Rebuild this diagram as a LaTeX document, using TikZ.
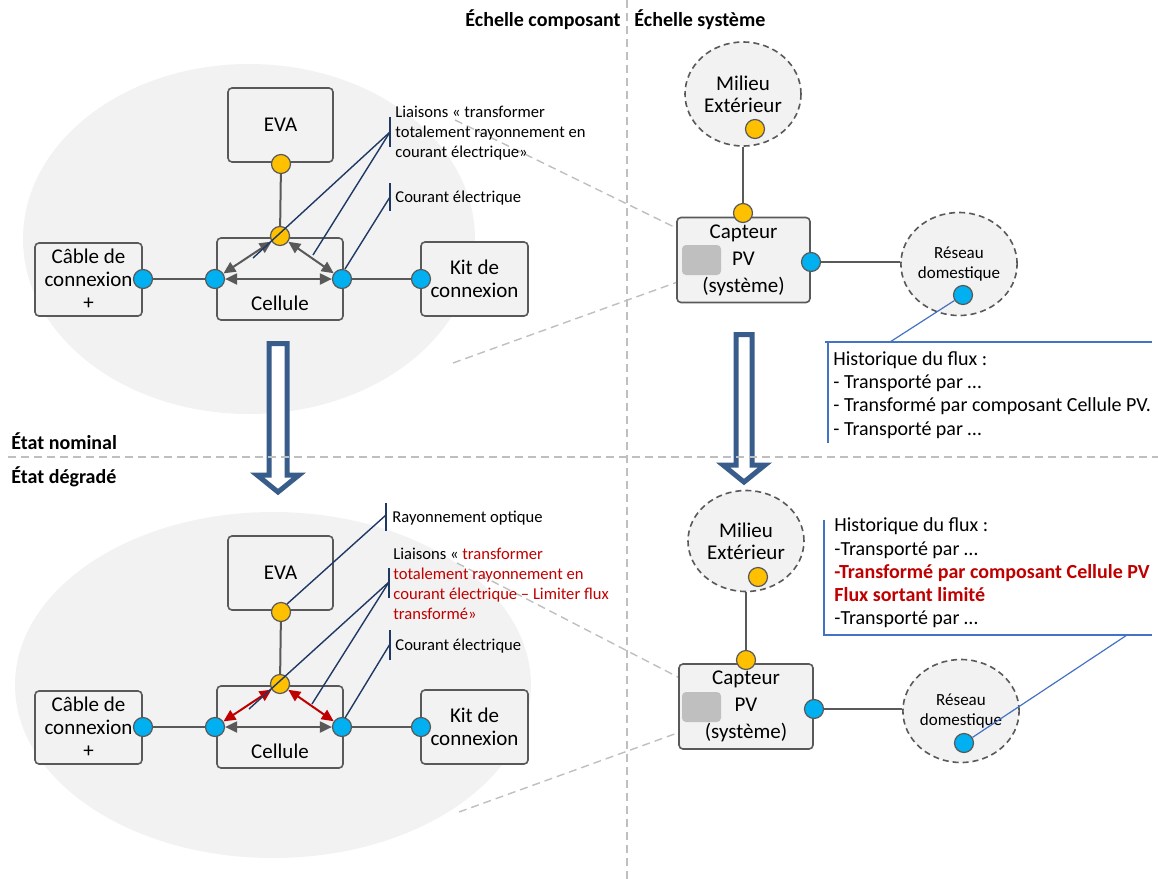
\documentclass[tikz,border=0pt]{standalone}
\usepackage{fontspec}
\setmainfont{Carlito}
\usetikzlibrary{arrows.meta,shapes.geometric}
\definecolor{bggray}{RGB}{242,242,242}
\definecolor{linegray}{RGB}{89,89,89}
\definecolor{sepgray}{RGB}{191,191,191}
\definecolor{portorange}{RGB}{255,192,0}
\definecolor{portblue}{RGB}{0,176,240}
\definecolor{leadblue}{RGB}{31,56,100}
\definecolor{noteblue}{RGB}{68,114,196}
\definecolor{arrowblue}{RGB}{56,93,138}
\definecolor{degred}{RGB}{192,0,0}
\tikzset{
  comp/.style={draw=linegray, fill=bggray, line width=0.8pt, rounded corners=2pt, align=center, inner sep=0pt, font=\fontsize{10.5}{11.5}\selectfont},
  envi/.style={ellipse, draw=linegray, fill=bggray, dash pattern=on 3pt off 2pt, line width=0.8pt, align=center, inner sep=0pt},
  orport/.style={circle, draw=linegray, fill=portorange, line width=0.6pt, minimum size=9.5pt, inner sep=0pt},
  blport/.style={circle, draw=linegray, fill=portblue, line width=0.6pt, minimum size=9.5pt, inner sep=0pt},
  link/.style={draw=linegray, line width=1pt},
  flow/.style={<->, >={Triangle[length=6pt,width=5.5pt]}, draw=linegray, line width=1pt},
  leader/.style={draw=leadblue, line width=0.7pt},
  noteline/.style={draw=noteblue, line width=0.6pt},
  sep/.style={draw=sepgray, dash pattern=on 4pt off 2.5pt, line width=0.7pt},
  bigarrow/.style={draw=arrowblue, fill=white, line width=2.5pt, line join=miter},
  small/.style={font=\fontsize{8.3}{10}\selectfont, align=left, inner sep=0pt, anchor=west},
  hist/.style={font=\fontsize{10}{11.6}\selectfont, align=left, inner sep=0pt, anchor=west},
  head/.style={font=\fontsize{10}{12}\selectfont\bfseries, inner sep=0pt}
}
\begin{document}
\begin{tikzpicture}[x=0.5pt,y=-0.5pt]
\useasboundingbox (0,0) rectangle (1158,879);
% fonds
\fill[bggray] (249,239) ellipse [x radius=113pt, y radius=87.5pt];
\fill[bggray] (273,685) ellipse [x radius=129pt, y radius=86.5pt];

% lignes de zoom
\coordinate (zuT1) at (455,120); \coordinate (zuT2) at (707,243);
\coordinate (zlT1) at (453,363); \coordinate (zlT2) at (697,275);
\coordinate (zuB1) at (457,563); \coordinate (zuB2) at (703,690);
\coordinate (zlB1) at (459,812); \coordinate (zlB2) at (705,723);
\draw[sep] (zuT1) -- (zuT2);
\draw[sep] (zlT1) -- (zlT2);
\draw[sep] (zuB1) -- (zuB2);
\draw[sep] (zlB1) -- (zlB2);

% fleches d'etat
\draw[bigarrow] (269,343.5) -- (287,343.5) -- (287,475) -- (299,475) -- (278,492) -- (257,475) -- (269,475) -- cycle;
\draw[bigarrow] (736,334.5) -- (752,334.5) -- (752,465) -- (765,465) -- (744,482) -- (723,465) -- (736,465) -- cycle;

% separations
\draw[sep] (627,0) -- (627,879);
\draw[sep] (8,457) -- (1158,457);
\node[head, anchor=east] (echcomp) at (621,20) {Échelle composant};
\node[head, anchor=west] (echsys) at (634,20) {Échelle système};
\node[head, anchor=west] (nominal) at (11,441) {État nominal};
\node[head, anchor=west] (degrade) at (11,477) {État dégradé};

%%% etat nominal, echelle composant
\node[comp, minimum width=52.5pt, minimum height=37pt] (evaT) at (280.5,125) {EVA};
\node[comp, minimum width=63pt, minimum height=41pt] (celT) at (280,279) {};
\node[inner sep=0pt, font=\fontsize{10.5}{11.5}\selectfont] (celtxtT) at (280,303) {Cellule};
\node[comp, minimum width=53.5pt, minimum height=36.5pt] (cableT) at (88.5,279.5) {Câble de\\connexion\\+};
\node[comp, minimum width=53.5pt, minimum height=37pt] (kitT) at (474.5,279) {Kit de\\connexion};
\node[orport] (evaorT) at (281,164) {};
\node[orport] (celorT) at (280,236) {};
\node[blport] (celloT) at (215,279) {};
\node[blport] (celriT) at (342,279) {};
\node[blport] (cablebT) at (143,279) {};
\node[blport] (kitbT) at (421,279) {};
\draw[link] (evaorT) -- (celorT);
\draw[link] (cablebT) -- (celloT);
\draw[link] (celriT) -- (kitbT);
\draw[flow] (celloT) -- (celriT);
\draw[flow] (celorT) -- (celloT);
\draw[flow] (celorT) -- (celriT);

\node[small] (liaisonsT) at (395,133) {Liaisons « transformer\\totalement rayonnement en\\courant électrique»};
\coordinate (lbT1) at (390,117); \coordinate (lbT2) at (390,147); \coordinate (lbT) at (390,132);
\coordinate (leT1) at (253,258); \coordinate (leT2) at (313,255);
\draw[leader] (lbT1) -- (lbT2);
\draw[leader] (lbT) -- (leT1);
\draw[leader] (lbT) -- (leT2);
\node[small] (courantT) at (395,198) {Courant électrique};
\coordinate (cbT1) at (390,183); \coordinate (cbT2) at (390,211); \coordinate (cbT) at (390,197);
\coordinate (ceT) at (345,269);
\draw[leader] (cbT1) -- (cbT2);
\draw[leader] (cbT) -- (ceT);

%%% etat nominal, echelle systeme
\node[envi, minimum width=58pt, minimum height=52pt, font=\fontsize{10.5}{11}\selectfont] (milT) at (743,94) {Milieu\\Extérieur};
\node[orport] (milorT) at (755,129) {};
\node[comp, minimum width=66.5pt, minimum height=42.5pt, font=\fontsize{10.5}{13.5}\selectfont] (capT) at (743.5,260) {Capteur\\PV\\(système)};
\node[fill=sepgray, rounded corners=2pt, minimum width=19.5pt, minimum height=15pt, inner sep=0pt] (capsqT) at (701.5,260) {};
\node[orport] (caporT) at (743,213) {};
\node[blport] (capblT) at (811,262) {};
\node[envi, minimum width=58pt, minimum height=51.5pt, font=\fontsize{8.5}{10}\selectfont] (resT) at (959,264) {Réseau\\domestique};
\node[blport] (resblT) at (963,295) {};
\draw[link] (milT.south) -- (caporT);
\draw[link] (capblT) -- (capblT -| resT.west);

\coordinate (hcT1) at (825,342); \coordinate (hcT2) at (1152,342);
\coordinate (hcT3) at (828,342); \coordinate (hcT4) at (828,443);
\coordinate (hlT) at (890,342);
\draw[noteline] (hcT1) -- (hcT2);
\draw[noteline] (hcT3) -- (hcT4);
\draw[noteline] (hlT) -- (resblT);
\node[hist] (histT) at (833,395) {Historique du flux :\\- Transporté par …\\- Transformé par composant Cellule PV.\\- Transporté par …};

%%% etat degrade, echelle composant
\node[comp, minimum width=52.5pt, minimum height=37pt] (evaB) at (280.5,573) {EVA};
\node[comp, minimum width=63pt, minimum height=41pt] (celB) at (280,727) {};
\node[inner sep=0pt, font=\fontsize{10.5}{11.5}\selectfont] (celtxtB) at (280,751) {Cellule};
\node[comp, minimum width=53.5pt, minimum height=36.5pt] (cableB) at (88.5,727.5) {Câble de\\connexion\\+};
\node[comp, minimum width=53.5pt, minimum height=37pt] (kitB) at (474.5,727) {Kit de\\connexion};
\node[orport] (evaorB) at (281,612) {};
\node[orport] (celorB) at (280,684) {};
\node[blport] (celloB) at (215,727) {};
\node[blport] (celriB) at (342,727) {};
\node[blport] (cablebB) at (143,727) {};
\node[blport] (kitbB) at (421,727) {};
\draw[link] (evaorB) -- (celorB);
\draw[link] (cablebB) -- (celloB);
\draw[link] (celriB) -- (kitbB);
\draw[flow] (celloB) -- (celriB);
\draw[flow, draw=degred] (celorB) -- (celloB);
\draw[flow, draw=degred] (celorB) -- (celriB);

\node[small] (rayonB) at (392,518) {Rayonnement optique};
\coordinate (rbB1) at (386,503); \coordinate (rbB2) at (386,531); \coordinate (rbB) at (386,515);
\coordinate (reB) at (287,604);
\draw[leader] (rbB1) -- (rbB2);
\draw[leader] (rbB) -- (reB);
\node[small] (liaisonsB) at (393,584) {Liaisons « \textcolor{degred}{transformer}\\\textcolor{degred}{totalement rayonnement en}\\\textcolor{degred}{courant électrique – Limiter flux}\\\textcolor{degred}{transformé»}};
\coordinate (lbB1) at (389,568); \coordinate (lbB2) at (389,598); \coordinate (lbB) at (389,582);
\coordinate (leB1) at (249,709); \coordinate (leB2) at (312,704);
\draw[leader] (lbB1) -- (lbB2);
\draw[leader] (lbB) -- (leB1);
\draw[leader] (lbB) -- (leB2);
\node[small] (courantB) at (395,646) {Courant électrique};
\coordinate (cbB1) at (390,630); \coordinate (cbB2) at (390,660); \coordinate (cbB) at (390,644);
\coordinate (ceB) at (345,718);
\draw[leader] (cbB1) -- (cbB2);
\draw[leader] (cbB) -- (ceB);

%%% etat degrade, echelle systeme
\node[envi, minimum width=58pt, minimum height=50.5pt, font=\fontsize{10.5}{11}\selectfont] (milB) at (746,541) {Milieu\\Extérieur};
\node[orport] (milorB) at (758,577) {};
\node[comp, minimum width=67pt, minimum height=42.5pt, font=\fontsize{10.5}{13.5}\selectfont] (capB) at (746,706.5) {Capteur\\PV\\(système)};
\node[fill=sepgray, rounded corners=2pt, minimum width=19.5pt, minimum height=15pt, inner sep=0pt] (capsqB) at (701.5,707) {};
\node[orport] (caporB) at (746,660) {};
\node[blport] (capblB) at (814,709) {};
\node[envi, minimum width=58pt, minimum height=51.5pt, font=\fontsize{8.5}{10}\selectfont] (resB) at (961,711) {Réseau\\domestique};
\node[blport] (resblB) at (964,743) {};
\draw[link] (milB.south) -- (caporB);
\draw[link] (capblB) -- (capblB -| resB.west);

\coordinate (hcB1) at (824,520); \coordinate (hcB2) at (824,635);
\coordinate (hcB3) at (1152,635);
\coordinate (hlB) at (1127,635);
\draw[noteline] (hcB1) -- (hcB2) -- (hcB3);
\draw[noteline] (hlB) -- (resblB);
\node[hist] (histB) at (834,573) {Historique du flux :\\-Transporté par …\\{\color{degred}\bfseries -Transformé par composant Cellule PV}\\{\color{degred}\bfseries Flux sortant limité}\\-Transporté par …};
\end{tikzpicture}
\end{document}
